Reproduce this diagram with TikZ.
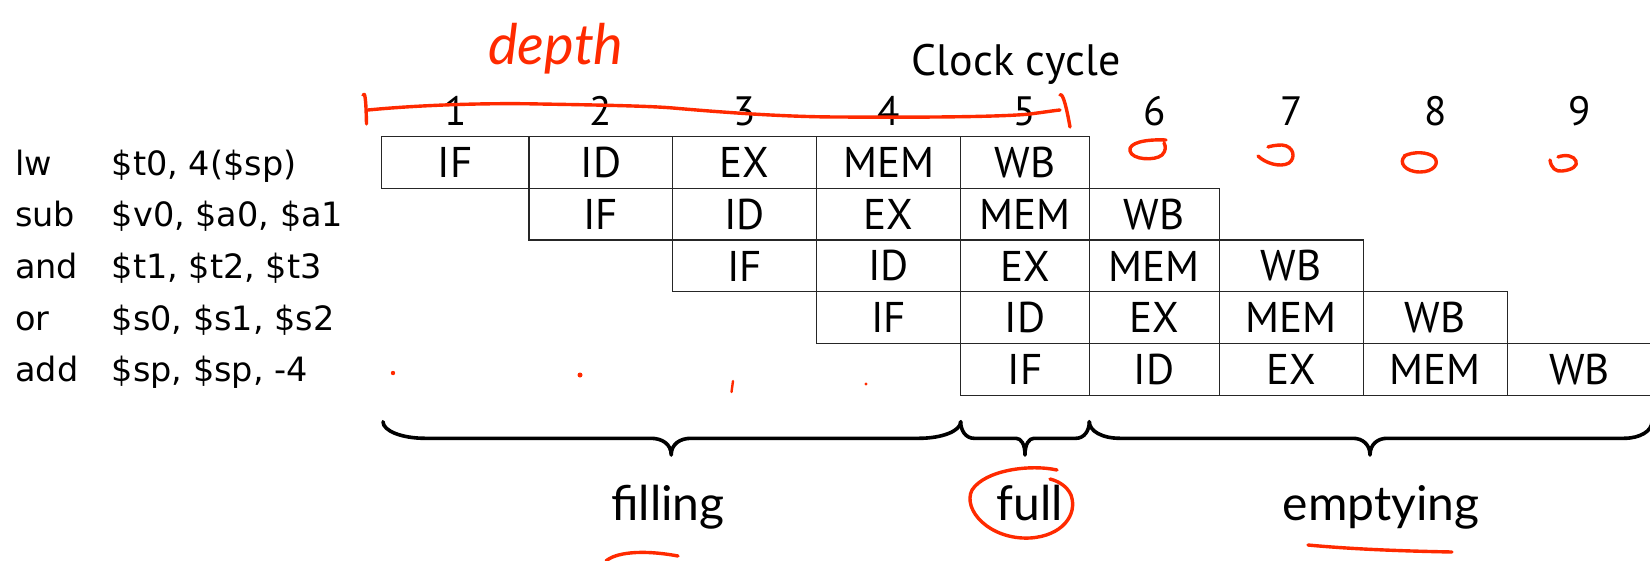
\documentclass[tikz,border=0pt]{standalone}
\usepackage{fontspec}
\setmainfont{PT Sans}
\newfontfamily\instrfont{DejaVu Sans}
\newfontfamily\labelfont{Lato}
\definecolor{penred}{HTML}{FF2A00}
\begin{document}
\begin{tikzpicture}[x=1pt,y=-1pt,
  cell/.style={draw=black!85, line width=1.3pt, inner sep=0pt, minimum height=51.7pt, font=\fontsize{43}{48}\selectfont},
  num/.style={font=\fontsize{41}{46}\selectfont, inner sep=0pt, anchor=base},
  title/.style={font=\fontsize{44}{50}\selectfont, inner sep=0pt, anchor=base},
  instr/.style={font=\instrfont\fontsize{33.5}{38}\selectfont, inner sep=0pt, anchor=base west},
  phase/.style={font=\labelfont\fontsize{48}{56}\selectfont, inner sep=0pt, anchor=base},
  brace/.style={draw=black, line width=3.6pt, line cap=round, line join=round},
  pen/.style={draw=penred, line width=3.4pt, line cap=round, line join=round},
  dot/.style={fill=penred, draw=none},
  hand/.style={font=\labelfont\itshape\fontsize{56}{60}\selectfont, text=penred, inner sep=0pt, anchor=base west}]
\useasboundingbox (0,0) rectangle (1650,560);

% title and cycle numbers
\node[title] (clock) at (1016,75) {Clock cycle};
\foreach \c/\x in {1/455.35,2/600.85,3/744.7,4/888.7,5/1025,6/1154.3,7/1291.3,8/1435.3,9/1579.65}
  \node[num] (n\c) at (\x,125) {\c};

% instructions
\node[instr] (m1) at (15,175) {lw};   \node[instr] (o1) at (111.7,175) {\$t0, 4(\$sp)};
\node[instr] (m2) at (15,226.7) {sub}; \node[instr] (o2) at (111.7,226.7) {\$v0, \$a0, \$a1};
\node[instr] (m3) at (15,278.4) {and}; \node[instr] (o3) at (111.7,278.4) {\$t1, \$t2, \$t3};
\node[instr] (m4) at (15,330.1) {or};  \node[instr] (o4) at (111.7,330.1) {\$s0, \$s1, \$s2};
\node[instr] (m5) at (15,381.8) {add}; \node[instr] (o5) at (111.7,381.8) {\$sp, \$sp, -4};

% pipeline cells
\foreach \r/\yy in {1/162.55,2/214.25,3/265.95,4/317.65,5/369.35}{
  \foreach \s/\st in {0/IF,1/ID,2/EX,3/MEM,4/WB}{
    \pgfmathtruncatemacro{\ci}{\r+\s-1}
    \pgfmathsetmacro{\cx}{{455.35,600.85,744.7,888.7,1025,1154.3,1291.3,1435.3,1579.65}[\ci]}
    \pgfmathsetmacro{\cw}{{147.3,143.7,144,144,128.6,130,144,144,144.7}[\ci]}
    \node[cell, minimum width=\cw pt] (r\r-\ci) at (\cx,\yy) {\st};
  }
}

% braces
\draw[brace] (383,421.7) .. controls (383,431) and (402,438.3) .. (425,438.3)
  -- (651,438.3) .. controls (662,438.3) and (671.2,444) .. (671.2,455)
  .. controls (671.2,444) and (680,438.3) .. (691,438.3)
  -- (919,438.3) .. controls (942,438.3) and (960.7,431) .. (960.7,421.7);
\draw[brace] (960.7,421.7) .. controls (960.7,431) and (966,438.3) .. (974,438.3)
  -- (1016,438.3) .. controls (1021,438.3) and (1025,444) .. (1025,455)
  .. controls (1025,444) and (1029,438.3) .. (1034,438.3)
  -- (1076,438.3) .. controls (1084,438.3) and (1089.3,431) .. (1089.3,421.7);
\draw[brace] (1089.3,421.7) .. controls (1089.3,431) and (1102,438.3) .. (1120,438.3)
  -- (1353,438.3) .. controls (1362,438.3) and (1370,444) .. (1370,455)
  .. controls (1370,444) and (1378,438.3) .. (1387,438.3)
  -- (1624,438.3) .. controls (1640,438.3) and (1652,431) .. (1652,421.7);

% phase labels
\node[phase] (filling) at (668,520) {filling};
\node[phase] (full) at (1030,520) {full};
\node[phase] (emptying) at (1381,520) {emptying};

% red handwritten annotations
\node[hand] (depth) at (488,64) {depth};
\draw[pen] (368,110) .. controls (430,104) and (500,103) .. (540,104)
  .. controls (600,105) and (650,106) .. (673,108)
  .. controls (730,113) and (790,117) .. (840,117)
  .. controls (920,117.5) and (1000,117) .. (1030,114)
  .. controls (1045,112) and (1055,110.5) .. (1060,110);
\draw[pen] (363,95) .. controls (365,91) and (366,100) .. (366.5,124);
\draw[pen] (1060,95) .. controls (1063,92) and (1067,110) .. (1070,127);
% marks under 6..9
\draw[pen] (1166,140) .. controls (1145,139) and (1128,143) .. (1130,151)
  .. controls (1132,160) and (1155,161) .. (1162,155)
  .. controls (1166,151) and (1166,146) .. (1164,143);
\draw[pen] (1258,156) .. controls (1265,163) and (1280,168) .. (1289,163)
  .. controls (1296,158) and (1294,146) .. (1282,145)
  .. controls (1276,145) and (1271,146) .. (1268,147);
\draw[pen] (1405,156) .. controls (1398,162) and (1405,172) .. (1420,172)
  .. controls (1434,172) and (1440,163) .. (1434,157)
  .. controls (1428,152) and (1414,151) .. (1404,156);
\draw[pen] (1550,160) .. controls (1551,168) and (1556,172) .. (1562,171)
  .. controls (1572,170) and (1578,166) .. (1576,161)
  .. controls (1574,156) and (1566,154) .. (1558,157);
% circle round "full", underline, arc
\draw[pen] (1057,470) .. controls (1030,464) and (985,470) .. (972,490)
  .. controls (962,510) and (990,540) .. (1030,538)
  .. controls (1062,536) and (1078,515) .. (1071,495)
  .. controls (1067,486) and (1058,481) .. (1050,479);
\draw[pen] (1308,545) .. controls (1350,549) and (1400,551) .. (1452,552);
\draw[pen] (606,561) .. controls (615,553) and (640,549) .. (678,556);
% stray dots
\fill[dot] (393,373) circle (2.2);
\fill[dot] (580,375) circle (2.5);
\draw[pen, line width=2.4pt] (733,381) -- (731.5,392);
\fill[dot] (866,384) circle (1.6);
\end{tikzpicture}
\end{document}
